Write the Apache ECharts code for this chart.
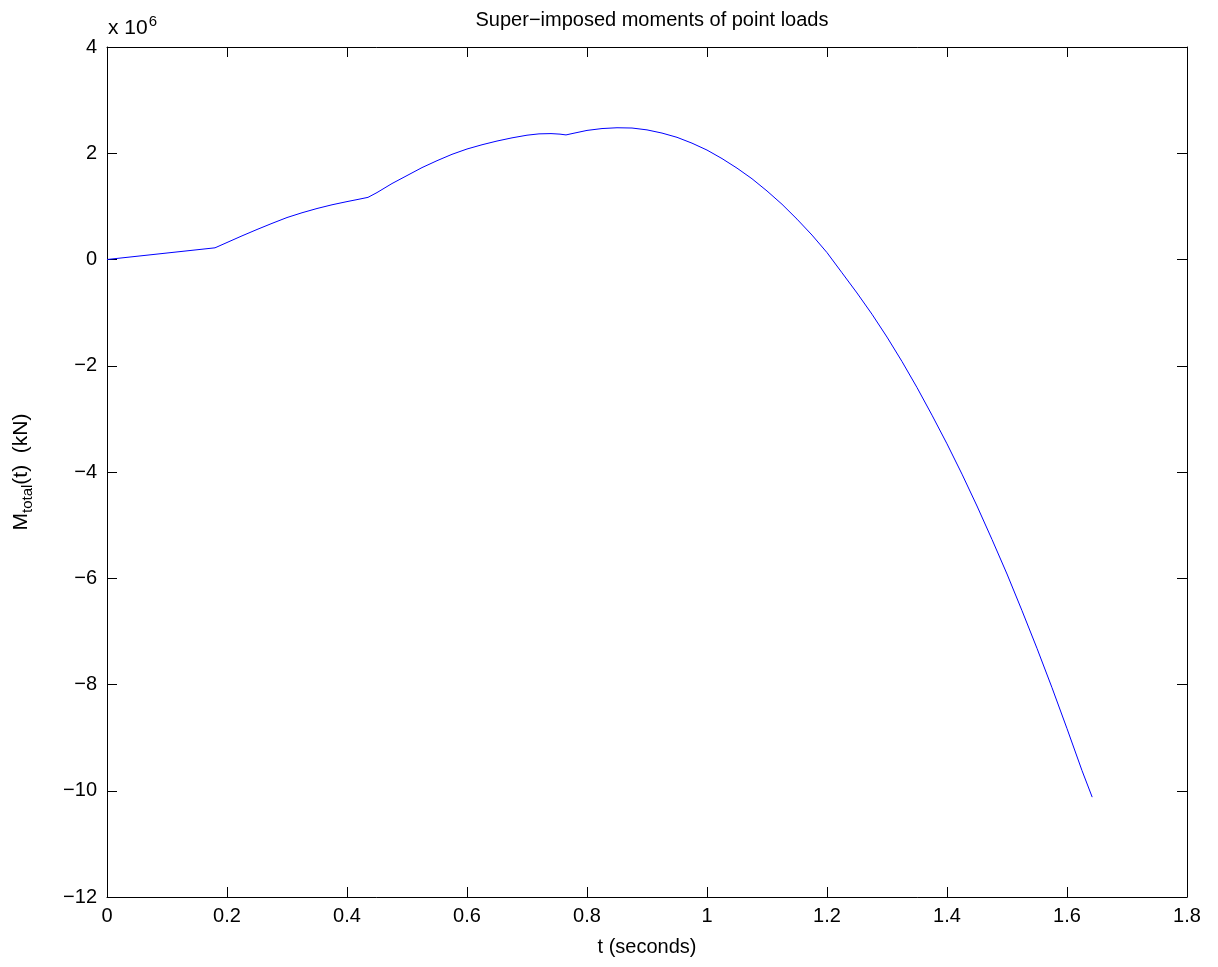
<!DOCTYPE html>
<html>
<head>
<meta charset="utf-8">
<script src="https://cdn.jsdelivr.net/npm/echarts@6/dist/echarts.min.js"></script>
<style>html,body{margin:0;padding:0;background:#fff}#c{width:1218px;height:967px}</style>
</head>
<body>
<div id="c"></div>
<script>
// time (s)
const tValues = [0, 0.18, 0.2, 0.225, 0.25, 0.275, 0.3, 0.325, 0.35, 0.375, 0.4, 0.42, 0.435,
  0.45, 0.475, 0.5, 0.525, 0.55, 0.575, 0.6, 0.625, 0.65, 0.675, 0.7, 0.72, 0.74, 0.755, 0.765,
  0.775, 0.8, 0.825, 0.85, 0.875, 0.9, 0.925, 0.95, 0.975, 1.0, 1.025, 1.05, 1.075, 1.1, 1.125, 1.15, 1.175, 1.2,
  1.225, 1.25, 1.275, 1.3, 1.325, 1.35, 1.375, 1.4, 1.425, 1.45, 1.475, 1.5, 1.525, 1.55, 1.575, 1.6, 1.625, 1.642];
// moment (x 10^6 kN)
const mValues = [0, 0.22, 0.32, 0.445, 0.565, 0.68, 0.79, 0.88, 0.96, 1.03, 1.09, 1.135, 1.17,
  1.26, 1.43, 1.58, 1.73, 1.86, 1.98, 2.08, 2.16, 2.23, 2.29, 2.34, 2.365, 2.37, 2.36, 2.345,
  2.37, 2.43, 2.465, 2.48, 2.475, 2.44, 2.38, 2.30, 2.19, 2.06, 1.90, 1.72, 1.52, 1.29, 1.04, 0.76, 0.46, 0.13,
  -0.25, -0.63, -1.03, -1.46, -1.92, -2.41, -2.93, -3.47, -4.04, -4.64, -5.27, -5.92, -6.61, -7.32, -8.06, -8.83, -9.62, -10.12];
const xTicks = [0, 0.2, 0.4, 0.6, 0.8, 1, 1.2, 1.4, 1.6, 1.8];
const yTicks = [-12, -10, -8, -6, -4, -2, 0, 2, 4];

const data = tValues.map((t, i) => [t, mValues[i]]);
const fam = '"Liberation Sans", Arial, Helvetica, sans-serif';
const fmt = v => (v < 0 ? '\u2212' + Math.abs(v) : String(v));

const chart = echarts.init(document.getElementById('c'));
const tick = {show: true, inside: true, length: 10, lineStyle: {color: '#000', width: 1}};
chart.setOption({
  animation: false,
  backgroundColor: '#fff',
  title: {text: 'Super\u2212imposed moments of point loads', left: 647, top: 5, textAlign: 'center',
    textStyle: {fontFamily: fam, fontSize: 20, fontWeight: 'normal', color: '#000'}},
  grid: {left: 107, top: 47, right: 31, bottom: 70, containLabel: false},
  xAxis: [{
    type: 'value', min: xTicks[0], max: xTicks[xTicks.length - 1], interval: 0.2,
    axisLine: {show: true, onZero: false, lineStyle: {color: '#000', width: 1}},
    axisTick: tick, splitLine: {show: false},
    axisLabel: {color: '#000', fontFamily: fam, fontSize: 20, margin: 9, formatter: v => fmt(+v.toFixed(1))},
    name: 't (seconds)', nameLocation: 'middle', nameGap: 40,
    nameTextStyle: {color: '#000', fontFamily: fam, fontSize: 20}
  }, {
    type: 'value', position: 'top', min: 0, max: 1.8, interval: 0.2,
    axisLine: {show: true, onZero: false, lineStyle: {color: '#000', width: 1}},
    axisTick: tick, axisLabel: {show: false}, splitLine: {show: false}
  }],
  yAxis: [{
    type: 'value', min: yTicks[0], max: yTicks[yTicks.length - 1], interval: 2,
    axisLine: {show: true, onZero: false, lineStyle: {color: '#000', width: 1}},
    axisTick: tick, splitLine: {show: false},
    axisLabel: {color: '#000', fontFamily: fam, fontSize: 20, margin: 10, formatter: v => fmt(v)},
    name: '{a|M}{s|total}{a|(t)  (kN)}', nameLocation: 'middle', nameGap: 72, nameRotate: 90,
    nameTextStyle: {color: '#000', fontFamily: fam, fontSize: 21,
      rich: {a: {fontFamily: fam, fontSize: 21, color: '#000'},
             s: {fontFamily: fam, fontSize: 15, color: '#000', padding: [12, 0, 0, 0]}}}
  }, {
    type: 'value', position: 'right', min: -12, max: 4, interval: 2,
    axisLine: {show: true, onZero: false, lineStyle: {color: '#000', width: 1}},
    axisTick: tick, axisLabel: {show: false}, splitLine: {show: false}
  }],
  graphic: [{
    type: 'text', left: 108, top: 14,
    style: {text: '{a|x 10}{s|6}', fontFamily: fam,
      rich: {a: {fontSize: 21, fontFamily: fam, fill: '#000'},
             s: {fontSize: 15, fontFamily: fam, fill: '#000', padding: [0, 0, 14, 1]}}}
  }],
  series: [{
    type: 'line', data: data, xAxisIndex: 0, yAxisIndex: 0,
    showSymbol: false, smooth: false,
    lineStyle: {color: '#0000ff', width: 1}
  }]
});
</script>
</body>
</html>
